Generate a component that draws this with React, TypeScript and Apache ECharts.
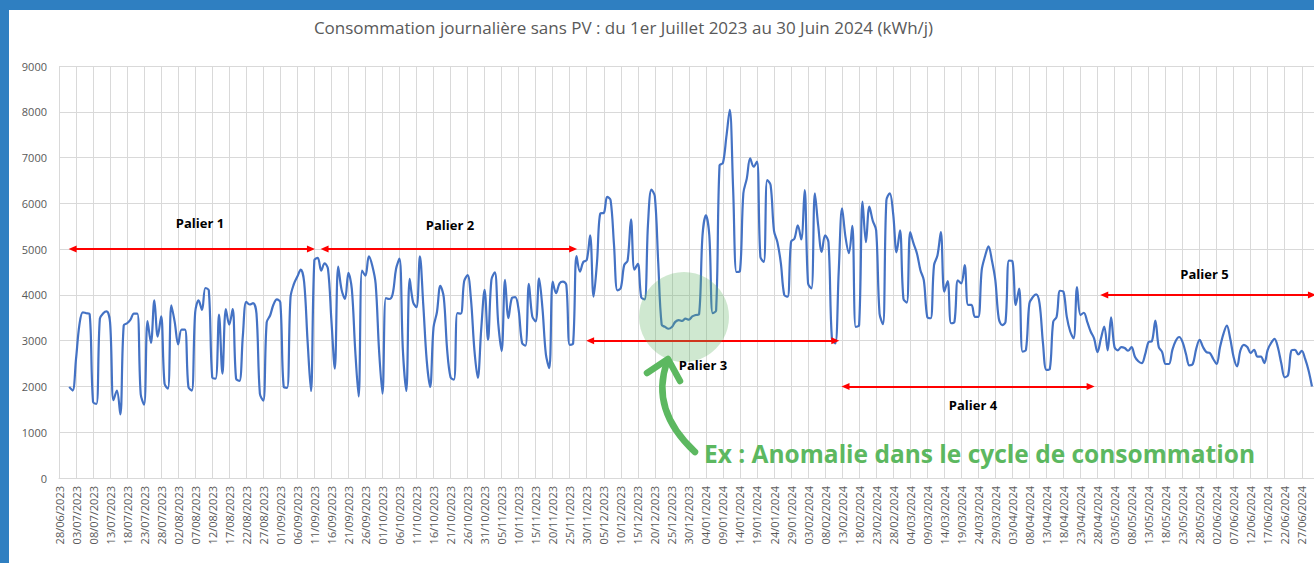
import { useEffect, useRef } from "react";
import * as echarts from "echarts";

// ---- data (kWh per day), 01/07/2023 -> 30/06/2024 ----
const jul2023 = [1990, 1910, 2600, 3350, 3620, 3600, 3580, 1660, 1620, 3480, 3600, 3640, 3400, 1700, 1910, 1390, 3330, 3380, 3460, 3590, 3590, 1830, 1600, 3430, 2950, 3880, 3090, 3530, 2060, 1950, 3770];
const aug2023 = [3400, 2920, 3240, 3240, 1990, 1910, 3620, 3880, 3670, 4150, 4100, 2200, 2170, 3570, 2280, 3690, 3350, 3690, 2170, 2120, 3110, 3850, 3790, 3820, 3590, 1840, 1690, 3400, 3550, 3790, 3900];
const sep2023 = [3840, 1990, 1970, 3950, 4240, 4400, 4550, 4280, 3000, 1900, 4760, 4810, 4530, 4690, 4570, 3450, 2390, 4620, 4110, 3910, 4480, 4130, 2790, 1780, 4530, 4420, 4840, 4640, 4240, 2790];
const oct2023 = [1840, 3930, 3910, 4020, 4570, 4790, 2790, 1900, 4350, 3840, 3730, 4840, 3770, 2570, 1990, 3290, 3620, 4200, 3950, 2800, 2200, 2150, 3600, 3590, 4300, 4430, 3900, 2800, 2190, 3240, 4110];
const nov2023 = [3020, 4330, 4490, 3380, 2770, 4330, 3490, 3930, 3950, 3670, 2950, 2890, 4240, 3530, 3420, 4360, 3700, 2700, 2400, 4290, 4040, 4250, 4290, 4220, 2910, 2940, 4850, 4510, 4720, 4760];
const dec2023 = [5300, 3960, 4700, 5780, 5790, 6140, 6070, 5100, 4100, 4150, 4650, 4750, 5650, 4550, 4680, 3950, 3900, 5560, 6300, 6150, 4700, 3350, 3300, 3260, 3300, 3410, 3450, 3430, 3480, 3460, 3530];
const jan2024 = [3560, 3580, 5300, 5740, 5300, 3600, 3660, 6830, 6880, 7450, 8040, 6300, 4500, 4520, 6220, 6540, 6980, 6800, 6910, 4830, 4720, 6510, 6400, 5400, 5150, 4700, 4000, 3960, 5160, 5230, 5520];
const feb2024 = [5210, 6290, 4250, 4140, 6220, 5500, 4940, 5300, 5150, 3050, 2940, 4500, 5890, 5260, 4910, 5510, 3300, 3340, 6040, 5150, 5930, 5620, 5410, 3590, 3360, 6060, 6220, 5770, 4930];
const mar2024 = [5410, 3920, 3830, 5370, 5120, 4900, 4540, 4320, 3520, 3490, 4650, 4860, 5370, 4070, 4300, 3380, 3410, 4320, 4250, 4650, 3780, 3780, 3520, 3520, 4540, 4850, 5060, 4750, 4320, 3490, 3340];
const apr2024 = [3410, 4750, 4740, 3780, 4140, 2760, 2800, 3810, 3950, 4010, 3810, 2940, 2360, 2380, 3410, 3520, 4090, 4070, 3520, 3200, 3050, 4170, 3560, 3610, 3410, 3200, 3050, 2750, 3040, 3310];
const may2024 = [2790, 3510, 2860, 2790, 2860, 2840, 2780, 2860, 2650, 2550, 2510, 2700, 2970, 2990, 3440, 2860, 2750, 2490, 2490, 2800, 3000, 3080, 2970, 2710, 2460, 2490, 2820, 3020, 2860, 2750, 2730];
const jun2024 = [2600, 2490, 2860, 3150, 3330, 3040, 2640, 2440, 2790, 2910, 2860, 2730, 2800, 2650, 2650, 2510, 2800, 2950, 3040, 2850, 2500, 2200, 2250, 2790, 2800, 2700, 2780, 2600, 2350, 2000];

const values = [
  ...jul2023, ...aug2023, ...sep2023, ...oct2023, ...nov2023, ...dec2023,
  ...jan2024, ...feb2024, ...mar2024, ...apr2024, ...may2024, ...jun2024,
];

// category axis: one category per day, axis starts 28/06/2023, one label every 5 days
const AXIS_START_UTC = Date.UTC(2023, 5, 28);
const AXIS_DAY_COUNT = 376;
const LAST_LABEL_INDEX = 365; // 27/06/2024
const DATA_START_UTC = Date.UTC(2023, 6, 1);

function fmt(t: number) {
  const d = new Date(t);
  const dd = String(d.getUTCDate()).padStart(2, "0");
  const mm = String(d.getUTCMonth() + 1).padStart(2, "0");
  return `${dd}/${mm}/${d.getUTCFullYear()}`;
}
const dates: string[] = [];
for (let i = 0; i < AXIS_DAY_COUNT; i++) dates.push(fmt(AXIS_START_UTC + i * 86400000));
const seriesData = values.map((v, i) => [fmt(DATA_START_UTC + i * 86400000), v]);

// "paliers" (consumption levels) annotation arrows: [label, from date, to date, level]
const paliers: [string, string, string, number][] = [
  ["Palier 1", "02/07/2023", "10/09/2023", 5000],
  ["Palier 2", "14/09/2023", "26/11/2023", 5000],
  ["Palier 3", "01/12/2023", "11/02/2024", 3000],
  ["Palier 4", "14/02/2024", "26/04/2024", 2000],
  ["Palier 5", "30/04/2024", "30/06/2024", 4000],
];

const TITLE = "Consommation journalière sans PV : du 1er Juillet 2023 au 30 Juin 2024 (kWh/j)";
const NOTE = "Ex : Anomalie dans le cycle de consommation";
const FONT = '"Open Sans", "Noto Sans", sans-serif';
const GREEN = "#5cb860";

function txt(text: string, x: number, y: number, size: number, weight: string, fill: string, align = "center") {
  return {
    type: "text",
    x, y, z: 200,
    style: {
      text, fill,
      font: `${weight} ${size}px ${FONT}`,
      align, verticalAlign: "middle",
      textAlign: align, textVerticalAlign: "middle",
    },
  };
}

export default function App() {
  const ref = useRef<HTMLDivElement>(null);
  useEffect(() => {
    if (!ref.current) return;
    const chart = echarts.init(ref.current, undefined, { renderer: "svg" });
    const option: any = {
      animation: false,
      backgroundColor: "#ffffff",
      textStyle: { fontFamily: FONT },
      grid: { left: 59, top: 66, width: 1276.8, height: 412, containLabel: false },
      xAxis: {
        type: "category",
        data: dates,
        boundaryGap: false,
        axisLine: { lineStyle: { color: "#d9d9d9", width: 1 } },
        axisTick: { show: false },
        axisLabel: {
          interval: (index: number) => index % 5 === 0 && index <= LAST_LABEL_INDEX,
          rotate: 90,
          color: "#595959",
          fontSize: 11,
          margin: 8,
          fontFamily: FONT,
        },
        splitLine: { show: true, interval: 4, lineStyle: { color: "#d9d9d9", width: 1 } },
      },
      yAxis: {
        type: "value",
        min: 0,
        max: 9000,
        interval: 1000,
        axisLine: { show: false },
        axisTick: { show: false },
        axisLabel: { color: "#595959", fontSize: 11, margin: 12, fontFamily: FONT, formatter: (v: number) => String(v) },
        splitLine: { lineStyle: { color: "#d9d9d9", width: 1 } },
      },
      series: [
        {
          type: "line",
          data: seriesData,
          smooth: 0.35,
          showSymbol: false,
          symbol: "none",
          lineStyle: { color: "#4472c4", width: 2.2 },
          itemStyle: { color: "#4472c4" },
          z: 3,
          markLine: {
            silent: true,
            symbol: ["triangle", "triangle"],
            symbolSize: [7, 8],
            lineStyle: { color: "#ff0000", width: 2, type: "solid" },
            itemStyle: { color: "#ff0000" },
            label: { show: false },
            emphasis: { disabled: true },
            data: paliers.map((p) => [{ coord: [p[1], p[3]] }, { coord: [p[2], p[3]] }]),
          },
        },
      ],
      graphic: [
        txt(TITLE, 623.5, 27, 17, "normal", "#595959"),
        txt(paliers[0][0], 200, 223, 13, "bold", "#000000"),
        txt(paliers[1][0], 450, 225, 13, "bold", "#000000"),
        txt(paliers[2][0], 703, 365, 13, "bold", "#000000"),
        txt(paliers[3][0], 973, 405, 13, "bold", "#000000"),
        txt(paliers[4][0], 1204.5, 274, 13, "bold", "#000000"),
        {
          type: "circle",
          z: 150,
          shape: { cx: 684, cy: 317, r: 45 },
          style: { fill: "rgba(96,180,100,0.3)" },
        },
        {
          type: "bezierCurve",
          z: 160,
          shape: { x1: 695, y1: 452, x2: 667, y2: 362, cpx1: 650, cpy1: 410 },
          style: { stroke: GREEN, lineWidth: 6.5, lineCap: "round", fill: null },
        },
        {
          type: "polyline",
          z: 160,
          shape: { points: [[647, 373], [668, 359], [680, 381]] },
          style: { stroke: GREEN, lineWidth: 6.5, lineCap: "round", lineJoin: "round", fill: null },
        },
        txt(NOTE, 704, 453, 24.5, "bold", GREEN, "left"),
      ],
    };
    chart.setOption(option);
    return () => chart.dispose();
  }, []);

  return (
    <div style={{ position: "fixed", left: 0, top: 0, width: 1314, height: 563, overflow: "hidden", background: "#ffffff" }}>
      <div ref={ref} style={{ position: "absolute", left: 0, top: 0, width: 1360, height: 563 }} />
      <div style={{ position: "absolute", left: 0, top: 0, width: 9, height: 563, background: "#2f7fc1" }} />
      <div style={{ position: "absolute", left: 0, top: 0, width: 1314, height: 10, background: "#2f7fc1" }} />
    </div>
  );
}
